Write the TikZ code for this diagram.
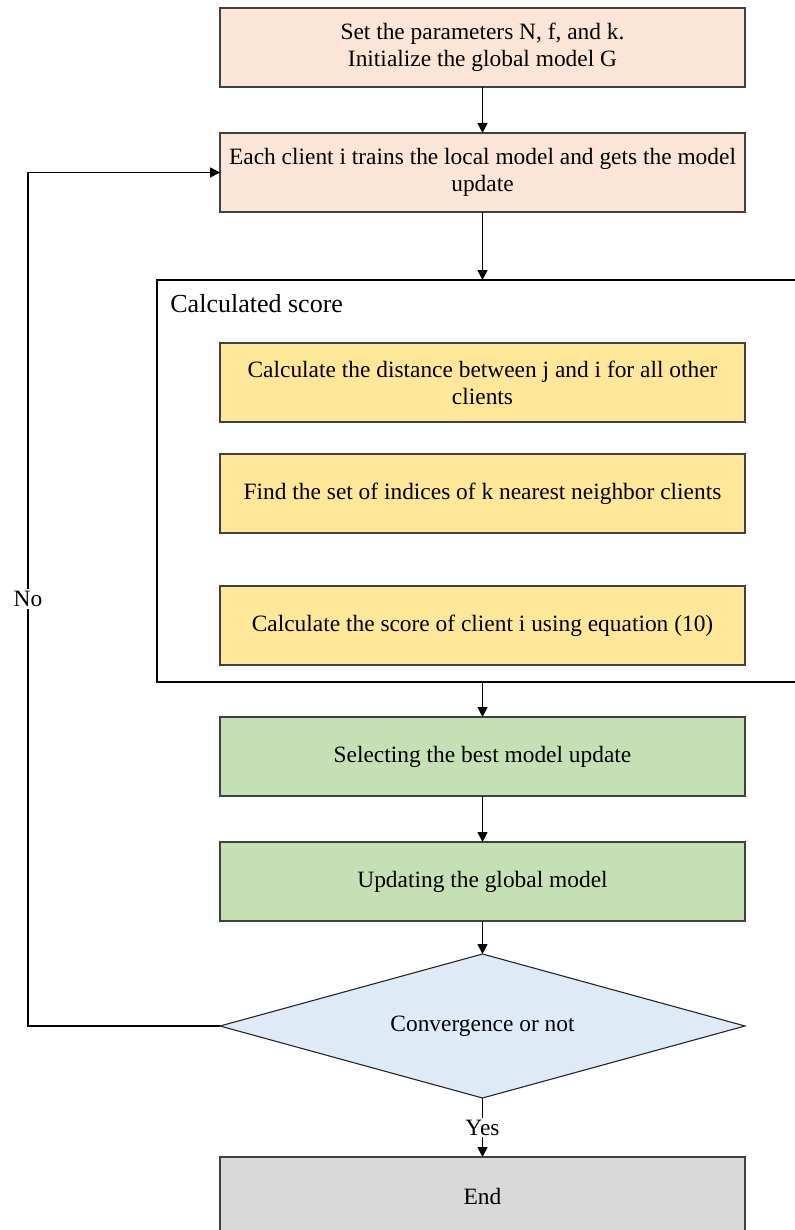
\documentclass[tikz,border=0pt]{standalone}
\usepackage{fontspec}
\setmainfont{Liberation Serif}
\usepackage{xcolor}
\usepackage{tikz}
\usetikzlibrary{arrows.meta, shapes.geometric, positioning, fit, calc}
\definecolor{initbg}{RGB}{251, 229, 214}
\definecolor{scorebg}{RGB}{255, 230, 153}
\definecolor{selectbg}{RGB}{197, 224, 180}
\definecolor{checkbg}{RGB}{222, 235, 247}
\definecolor{stopbg}{RGB}{217, 217, 217}

\begin{document}
\begin{tikzpicture}[
    node distance=23pt,
    box/.style={draw=black!75, line width=0.55pt, minimum width=262.5pt,
                minimum height=39.5pt, inner sep=2pt, outer sep=0pt,
                font=\fontsize{11.7}{13.6}\selectfont, align=center},
    decision/.style={diamond, aspect=3.6, draw=black!85, line width=0.55pt, fill=checkbg,
                     minimum width=262.5pt, minimum height=72pt, inner sep=0pt, outer sep=0pt,
                     font=\fontsize{11.7}{13.6}\selectfont, align=center},
    frame/.style={draw, line width=0.6pt, inner sep=0pt, outer sep=0pt},
    arr/.style={-{Triangle[length=5pt, width=5pt]}, line width=0.8pt},
    lbl/.style={fill=white, inner sep=1pt, font=\fontsize{11.7}{13.6}\selectfont},
  ]
  \useasboundingbox (0,0) rectangle (397pt,-615pt);
  \node[box, fill=initbg] (init) at (241.25pt,-23.75pt) {Set the parameters N, f, and k.\\Initialize the global model G};
  \node[box, fill=initbg, below=of init] (train) {Each client i trains the local model and gets the model\\update};
  \node[box, fill=scorebg, below=65.5pt of train] (dist) {Calculate the distance between j and i for all other\\clients};
  \node[box, fill=scorebg, below=16pt of dist] (knn) {Find the set of indices of k nearest neighbor clients};
  \node[box, fill=scorebg, below=26.5pt of knn] (score) {Calculate the score of client i using equation (10)};
  \node[box, fill=selectbg, below=26pt of score] (select) {Selecting the best model update};
  \node[box, fill=selectbg, below=of select] (update) {Updating the global model};
  \node[decision, below=16.5pt of update] (conv) {Convergence or not};
  \node[box, fill=stopbg, below=29.5pt of conv] (stop) {End};
  % frame round the score steps
  \coordinate (frame nw) at ($(dist.north west)+(-31.5pt,31.5pt)$);
  \coordinate (frame se) at ($(score.south east)+(26pt,-8.5pt)$);
  \node[frame, fit=(frame nw)(frame se)] (scoreframe) {};
  \node[anchor=north west, inner sep=0pt, font=\fontsize{13}{15}\selectfont] (framelbl)
    at ($(scoreframe.north west)+(6.5pt,-7pt)$) {Calculated score};
  \coordinate (loop) at (14pt,0);
  \draw[arr] (init) -- (train);
  \draw[arr] (train) -- (train |- scoreframe.north);
  \draw[arr] (train |- scoreframe.south) -- (select);
  \draw[arr] (select) -- (update);
  \draw[arr] (update) -- (conv);
  \draw[arr] (conv) -- node[lbl] {Yes} (stop);
  \draw[arr] (conv.west) -- (conv.west -| loop) -- node[lbl] {No} (train.west -| loop) -- (train.west);
\end{tikzpicture}
\end{document}
